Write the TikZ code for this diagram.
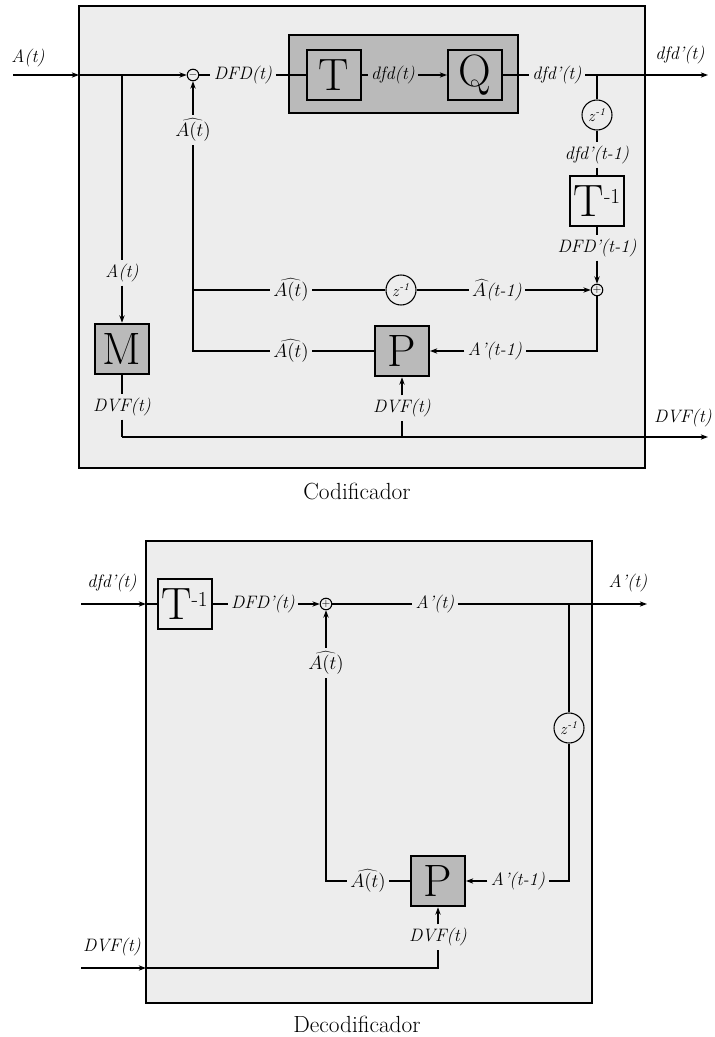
\documentclass[tikz,border=0pt]{standalone}
\usetikzlibrary{arrows.meta}
\begin{document}
\begin{tikzpicture}[x=0.75pt,y=-0.75pt,
  lbl/.style={font=\fontsize{13.5}{15}\selectfont\itshape, inner sep=2.5pt},
  capt/.style={font=\fontsize{17.5}{19}\selectfont, inner sep=0pt},
  blk/.style={draw, line width=1.5pt, fill=black!27, minimum width=40.5pt, minimum height=38pt, inner sep=0pt, font=\fontsize{34}{34}\selectfont},
  wblk/.style={blk, fill=black!7},
  dly/.style={circle, draw, line width=0.8pt, minimum size=22.5pt, inner sep=0pt, font=\fontsize{12}{12}\selectfont},
  sumc/.style={circle, draw, line width=0.8pt, minimum size=8.5pt, inner sep=0pt, font=\fontsize{8}{8}\selectfont},
  frame/.style={draw, line width=2pt, fill=black!7},
  ln/.style={line width=0.8pt},
  ar/.style={line width=0.8pt, -{Stealth[length=5.5pt,width=4pt]}}
]
\useasboundingbox (0,0) rectangle (714,1037);
\newcommand{\Ah}{$\widehat{A(t)}$}
\newcommand{\zinv}{\textit{z}\textsuperscript{\textit{-1}}}
\newcommand{\Tinv}{T\raisebox{10pt}{\fontsize{16}{16}\selectfont -1}}

% ================= ENCODER =================
\draw[frame] (79,6) rectangle (645,468);
\draw[draw, line width=0.8pt, fill=black!27] (289,35) rectangle (518,113);

\node[lbl] (inA) at (28,58) {A(t)};
\coordinate (i0) at (13,75);
\coordinate (e0) at (79,75);
\coordinate (br1) at (122,75);
\node[sumc] (sub) at (193,75) {$-$};
\node[lbl] (lDFD) at (243,75) {DFD(t)};
\node[blk] (T) at (334,75) {T};
\node[lbl] (ldfd) at (393,75) {dfd(t)};
\node[blk] (Q) at (475,75) {Q};
\node[lbl] (ldfdp) at (557,75) {dfd'(t)};
\coordinate (br2) at (597,75);
\coordinate (o1) at (708,75);
\node[lbl] (odfd) at (680,55) {dfd'(t)};
\node[dly] (z1) at (597,115) {\zinv};
\node[lbl] (ldfdp1) at (597,155) {dfd'(t-1)};
\node[wblk] (Ti) at (597,201) {\Tinv};
\node[lbl] (lDFDp1) at (597,248) {DFD'(t-1)};
\node[sumc] (add1) at (597,290) {$+$};
\coordinate (h1) at (193,290);
\node[lbl] (lAh1) at (291,290) {\Ah};
\node[dly] (z2) at (401,290) {\zinv};
\node[lbl] (lAh2) at (497,290) {$\widehat{A}$(t-1)};
\node[blk] (P) at (402,351) {P};
\node[lbl] (lAp1) at (495,351) {A'(t-1)};
\coordinate (c1) at (597,351);
\node[lbl] (lAh3) at (291,351) {\Ah};
\coordinate (c2) at (193,351);
\node[lbl] (lAh4) at (193,130) {\Ah};
\node[blk] (M) at (122,349) {M};
\node[lbl] (lA2) at (122,273) {A(t)};
\node[lbl] (lDVF1) at (122,407) {DVF(t)};
\coordinate (d1) at (122,437);
\coordinate (d2) at (402,437);
\coordinate (o2) at (708,437);
\node[lbl] (lDVF2) at (402,408) {DVF(t)};
\node[lbl] (lDVF3) at (683,418) {DVF(t)};
\node[capt] (cod) at (357,491) {Codificador};

\draw[ar] (i0) -- (e0);
\draw[ar] (e0) -- (sub);
\draw[ln] (sub) -- (lDFD);
\draw[ln] (lDFD) -- (T);
\draw[ln] (T) -- (ldfd);
\draw[ar] (ldfd) -- (Q);
\draw[ln] (Q) -- (ldfdp);
\draw[ar] (ldfdp) -- (o1);
\draw[ln] (br2) -- (z1);
\draw[ln] (z1) -- (ldfdp1);
\draw[ln] (ldfdp1) -- (Ti);
\draw[ln] (Ti) -- (lDFDp1);
\draw[ar] (lDFDp1) -- (add1);
\draw[ln] (h1) -- (lAh1);
\draw[ln] (lAh1) -- (z2);
\draw[ln] (z2) -- (lAh2);
\draw[ar] (lAh2) -- (add1);
\draw[ln] (add1) -- (c1) -- (lAp1);
\draw[ar] (lAp1) -- (P);
\draw[ln] (P) -- (lAh3);
\draw[ln] (lAh3) -- (c2) -- (lAh4);
\draw[ar] (lAh4) -- (sub);
\draw[ln] (br1) -- (lA2);
\draw[ar] (lA2) -- (M);
\draw[ln] (M) -- (lDVF1);
\draw[ln] (lDVF1) -- (d1);
\draw[ar] (d1) -- (o2);
\draw[ln] (d2) -- (lDVF2);
\draw[ar] (lDVF2) -- (P);

% ================= DECODER =================
\draw[frame] (146,541) rectangle (592,1003);

\node[lbl] (in1) at (112,583) {dfd'(t)};
\coordinate (i1) at (81,604);
\coordinate (e1) at (146,604);
\node[wblk] (Ti2) at (184.5,604) {\Tinv};
\node[lbl] (lDFDp) at (263,604) {DFD'(t)};
\node[sumc] (add2) at (326,604) {$+$};
\node[lbl] (lAp) at (435,604) {A'(t)};
\coordinate (br3) at (569,604);
\coordinate (o3) at (647,604);
\node[lbl] (oAp) at (628,583) {A'(t)};
\node[dly] (z3) at (569,728) {\zinv};
\coordinate (c3) at (569,881);
\node[lbl] (lAp1b) at (518,881) {A'(t-1)};
\node[blk] (P2) at (438,881) {P};
\node[lbl] (lAh5) at (368,881) {\Ah};
\coordinate (c4) at (326,881);
\node[lbl] (lAh6) at (326,663) {\Ah};
\node[lbl] (in2) at (112,947) {DVF(t)};
\coordinate (i2) at (81,968);
\coordinate (e2) at (146,968);
\coordinate (c5) at (438,968);
\node[lbl] (lDVF) at (438,937) {DVF(t)};
\node[capt] (dec) at (357,1024) {Decodificador};

\draw[ar] (i1) -- (e1);
\draw[ln] (e1) -- (Ti2);
\draw[ln] (Ti2) -- (lDFDp);
\draw[ar] (lDFDp) -- (add2);
\draw[ln] (add2) -- (lAp);
\draw[ar] (lAp) -- (o3);
\draw[ln] (br3) -- (z3);
\draw[ln] (z3) -- (c3) -- (lAp1b);
\draw[ar] (lAp1b) -- (P2);
\draw[ln] (P2) -- (lAh5);
\draw[ln] (lAh5) -- (c4) -- (lAh6);
\draw[ar] (lAh6) -- (add2);
\draw[ar] (i2) -- (e2);
\draw[ln] (e2) -- (c5) -- (lDVF);
\draw[ar] (lDVF) -- (P2);
\end{tikzpicture}
\end{document}
